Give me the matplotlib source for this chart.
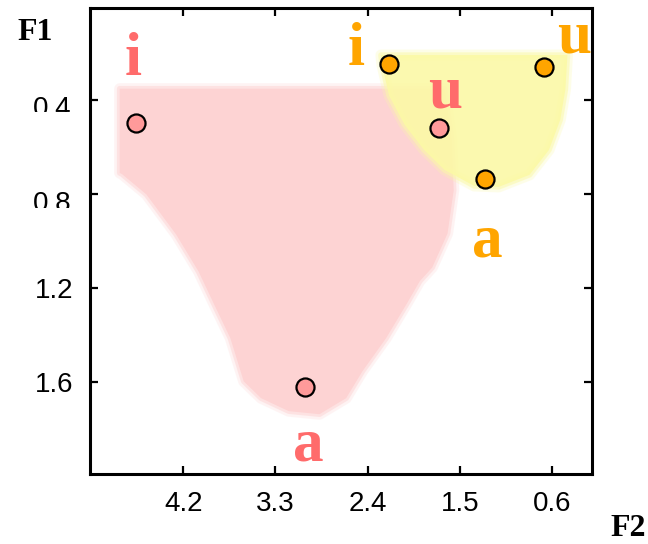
import matplotlib
matplotlib.use("Agg")
import matplotlib.pyplot as plt
from matplotlib.transforms import Bbox, TransformedBbox
import numpy as np

# =============== data ===============
# vowel points (F2, F1) in kHz
pink_f2 = [4.66, 1.70, 3.01]
pink_f1 = [0.50, 0.52, 1.62]
orange_f2 = [2.19, 0.675, 1.25]
orange_f1 = [0.25, 0.26, 0.736]

vowels = ['i', 'u', 'a']
pink_lab_f2 = [4.69, 1.64, 2.98]
pink_lab_f1 = [0.294, 0.434, 1.932]
orange_lab_f2 = [2.51, 0.39, 1.233]
orange_lab_f1 = [0.251, 0.20, 1.068]

# region outlines (F2, F1)
pink_reg_f2 = [4.82, 1.65, 1.58, 1.56, 1.62, 1.77, 1.89, 2.02, 2.22, 2.45,
               2.61, 2.87, 3.17, 3.44, 3.61, 3.74, 3.90, 4.05, 4.27, 4.56,
               4.80, 4.82]
pink_reg_f1 = [0.353, 0.353, 0.57, 0.785, 0.968, 1.113, 1.17, 1.268, 1.413,
               1.553, 1.668, 1.736, 1.723, 1.668, 1.596, 1.413, 1.268, 1.13,
               0.972, 0.802, 0.715, 0.711]
yellow_reg_f2 = [2.27, 0.45, 0.47, 0.52, 0.63, 0.82, 1.12, 1.36, 1.65, 1.85,
                 2.04, 2.19, 2.26]
yellow_reg_f1 = [0.21, 0.21, 0.357, 0.485, 0.613, 0.719, 0.77, 0.766, 0.698,
                 0.613, 0.506, 0.383, 0.251]

xticks = [4.2, 3.3, 2.4, 1.5, 0.6]
yticks = [0.4, 0.8, 1.2, 1.6]

pink = '#ff6b6b'
pink_dot = '#ff9a9a'
orange = '#ffa500'

fig = plt.figure(figsize=(6.48, 5.44), dpi=100)
ax = fig.add_axes([0.1389, 0.1287, 0.7747, 0.8566])

# regions, with a soft edge
for lw, a in [(8, 0.25), (4, 0.5)]:
    ax.fill(pink_reg_f2, pink_reg_f1, fill=False, ec='#fdd3d3', lw=lw,
            alpha=a, joinstyle='round', zorder=1)
ax.fill(pink_reg_f2, pink_reg_f1, color='#fdd3d3', lw=0, zorder=1)
for lw, a in [(8, 0.25), (4, 0.5)]:
    ax.fill(yellow_reg_f2, yellow_reg_f1, fill=False, ec='#fbf9a6', lw=lw,
            alpha=a, joinstyle='round', zorder=2)
ax.fill(yellow_reg_f2, yellow_reg_f1, color='#fbf9a6', lw=0, alpha=0.9, zorder=2)

ax.plot(pink_f2, pink_f1, 'o', ms=13, mfc=pink_dot, mec='black', mew=1.6, zorder=5)
ax.plot(orange_f2, orange_f1, 'o', ms=13, mfc=orange, mec='black', mew=1.6, zorder=5)

for v, x, y in zip(vowels, pink_lab_f2, pink_lab_f1):
    ax.text(x, y, v, color=pink, fontsize=44, fontweight='bold',
            family='Liberation Serif', ha='center', va='baseline', zorder=6)
for v, x, y in zip(vowels, orange_lab_f2, orange_lab_f1):
    ax.text(x, y, v, color=orange, fontsize=44, fontweight='bold',
            family='Liberation Serif', ha='center', va='baseline', zorder=6)

ax.set_xlim(5.11, 0.21)
ax.set_ylim(1.99, 0.01)
ax.set_xticks(xticks)
ax.set_yticks(yticks)
ax.set_xticklabels([str(t) for t in xticks])
# the two top labels are cut off in the original, drawn by hand below
ax.set_yticklabels(['', ''] + [str(t) for t in yticks[2:]])
ax.tick_params(direction='in', length=6, width=1.6, top=True, right=True,
               labelsize=20, pad=12)
for lab in ax.get_xticklabels() + ax.get_yticklabels():
    lab.set_family('Liberation Sans')
for s in ax.spines.values():
    s.set_linewidth(2.2)

# half-hidden labels 0.4 and 0.8
for t, top_px, cut_px in [(yticks[0], 96, 112), (yticks[1], 191, 208)]:
    txt = fig.text(71 / 648, 1 - top_px / 544, str(t), fontsize=20,
                   family='Liberation Sans', ha='right', va='top')
    box = Bbox([[0, 1 - cut_px / 544], [0.2, 1 - (top_px - 5) / 544]])
    txt.set_clip_box(TransformedBbox(box, fig.transFigure))

fig.text(35 / 648, 1 - 33 / 544, 'F1', fontsize=23, fontweight='bold',
         family='Liberation Serif', ha='center', va='center')
fig.text(628 / 648, 1 - 528 / 544, 'F2', fontsize=23, fontweight='bold',
         family='Liberation Serif', ha='center', va='center')

fig.savefig('out.png', dpi=100)
